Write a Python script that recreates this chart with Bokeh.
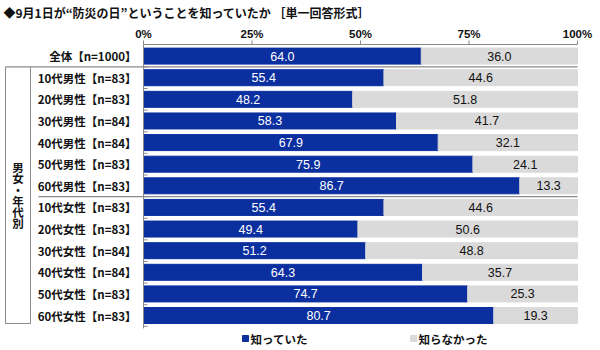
from bokeh.plotting import figure
from bokeh.models import Range1d, ColumnDataSource
from bokeh.core.properties import value
from bokeh.embed import file_html
from bokeh.resources import INLINE

title = "◆9月1日が“防災の日”ということを知っていたか ［単一回答形式］"
categories = ["全体【n=1000】",
              "10代男性【n=83】", "20代男性【n=83】", "30代男性【n=84】",
              "40代男性【n=84】", "50代男性【n=83】", "60代男性【n=83】",
              "10代女性【n=83】", "20代女性【n=83】", "30代女性【n=84】",
              "40代女性【n=84】", "50代女性【n=83】", "60代女性【n=83】"]
knew = [64.0, 55.4, 48.2, 58.3, 67.9, 75.9, 86.7, 55.4, 49.4, 51.2, 64.3, 74.7, 80.7]
not_knew = [36.0, 44.6, 51.8, 41.7, 32.1, 24.1, 13.3, 44.6, 50.6, 48.8, 35.7, 25.3, 19.3]
series_names = ["知っていた", "知らなかった"]
group_label = "男女・年代別"
x_ticks = [0, 25, 50, 75, 100]
x_tick_labels = ["0%", "25%", "50%", "75%", "100%"]

BLUE = "#0B2F9F"
GRAY = "#DADADA"
JP = "Noto Sans CJK JP"

W, H = 600, 350
X0, X1 = 143.0, 577.0          # pixel positions of 0% and 100%
ROW0, ROWH = 55.6, 21.62       # pixel center of first row, row height
sx = (X1 - X0) / 100.0

def px2x(px):
    return (px - X0) / sx

def px2y(py):
    return (py - ROW0) / ROWH

p = figure(width=W, height=H, output_backend="svg", toolbar_location=None,
           x_range=Range1d(px2x(0), px2x(W)), y_range=Range1d(px2y(H), px2y(0)),
           min_border=0, x_axis_location=None, y_axis_location=None)
p.outline_line_color = None
p.xgrid.visible = False
p.ygrid.visible = False
p.background_fill_color = "white"

n = len(categories)
rows = list(range(n))
src = ColumnDataSource(dict(
    y=rows, knew=knew, not_knew=not_knew,
    left2=knew, right2=[a + b for a, b in zip(knew, not_knew)],
    c1=[k / 2 for k in knew],
    c2=[k + m / 2 for k, m in zip(knew, not_knew)],
    l1=[f"{v:.1f}" for v in knew], l2=[f"{v:.1f}" for v in not_knew],
    cat=categories,
))

bh = 16 / ROWH
p.hbar(y="y", left=0, right="knew", height=bh, color=BLUE, source=src)
p.hbar(y="y", left="left2", right="right2", height=bh, color=GRAY, source=src)

p.text(x="c1", y="y", text="l1", source=src, text_align="center", text_baseline="middle",
       text_color="white", text_font=value("Liberation Sans"), text_font_size="12.5px")
p.text(x="c2", y="y", text="l2", source=src, text_align="center", text_baseline="middle",
       text_color="#111111", text_font=value("Liberation Sans"), text_font_size="12.5px")

# category labels
p.text(x=px2x(136), y="y", text="cat", source=src, text_align="right", text_baseline="middle",
       text_color="#111111", text_font=value(JP), text_font_style="bold", text_font_size="11.5px")

# top axis
ay = px2y(44)
p.segment(x0=[0], y0=[ay], x1=[100], y1=[ay], line_color="#888888", line_width=1)
p.segment(x0=x_ticks, y0=[ay] * len(x_ticks), x1=x_ticks, y1=[px2y(40)] * len(x_ticks),
          line_color="#888888", line_width=1)
p.text(x=x_ticks, y=[px2y(33)] * len(x_ticks), text=x_tick_labels, text_align="center",
       text_baseline="middle", text_color="#111111", text_font=value("Liberation Sans"),
       text_font_style="bold", text_font_size="11.5px")

# left axis line and row ticks
p.segment(x0=[0], y0=[ay], x1=[0], y1=[n - 0.5 + 2 / ROWH], line_color="#888888", line_width=1)
bounds = [r + 0.5 for r in rows]
p.segment(x0=[0] * n, y0=bounds, x1=[px2x(X0 + 4)] * n, y1=bounds,
          line_color="#888888", line_width=1)

# separators
sep_l = [px2x(5), px2x(38)]
sep_y = [0.5, 6.5]
p.segment(x0=sep_l, y0=sep_y, x1=[100, 100], y1=sep_y, line_color="#8A8A8A", line_width=1.2)

# group box
bx0, bx1 = px2x(5), px2x(30)
by0, by1 = 0.5, px2y(323)
p.segment(x0=[bx0, bx1, bx0], y0=[by0, by0, by1], x1=[bx0, bx1, bx1], y1=[by1, by1, by1],
          line_color="#8A8A8A", line_width=1)
chars = list(group_label)
cy = (by0 + by1) / 2
gy = [cy + (i - (len(chars) - 1) / 2) * 11.2 / ROWH for i in range(len(chars))]
p.text(x=[(bx0 + bx1) / 2] * len(chars), y=gy, text=chars, text_align="center",
       text_baseline="middle", text_color="#111111", text_font=value(JP),
       text_font_style="bold", text_font_size="11.5px")

# title
p.text(x=[px2x(3)], y=[px2y(12)], text=[title], text_align="left", text_baseline="middle",
       text_color="#111111", text_font=value(JP), text_font_style="bold", text_font_size="12px")

# legend
ly = px2y(338)
p.scatter(x=[px2x(245), px2x(413)], y=[ly, ly], marker="square", size=6,
          color=[BLUE, GRAY])
p.text(x=[px2x(250), px2x(418)], y=[ly, ly], text=series_names, text_align="left",
       text_baseline="middle", text_color="#111111", text_font=value(JP),
       text_font_style="bold", text_font_size="11.5px")

open("out.html", "w").write(file_html(p, INLINE))
